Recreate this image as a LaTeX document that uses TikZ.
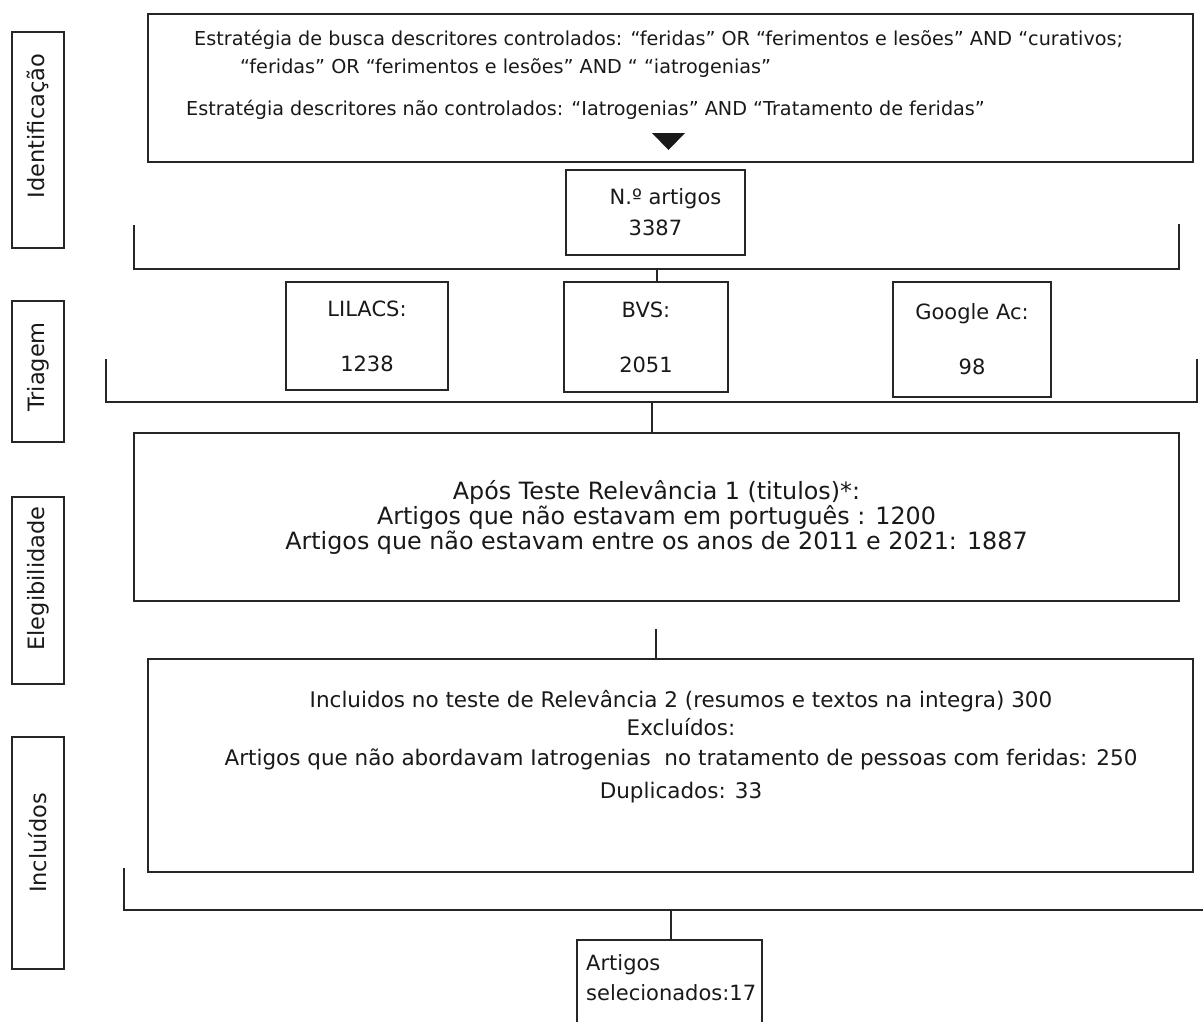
\documentclass[tikz,border=0pt]{standalone}
\usepackage{fontspec}
\setmainfont{DejaVu Sans}
\usetikzlibrary{positioning}

\begin{document}
\begin{tikzpicture}[x=1pt, y=-1pt,
  frame/.style={draw=black!85, line width=1.8pt, inner sep=0pt, text=black!90},
  stage/.style={frame, rotate=90, minimum height=52},
  stagetxt/.style={txt, rotate=90, font=\fontsize{22.5}{27}\selectfont},
  dbbox/.style={frame, align=center, font=\fontsize{21}{25}\selectfont},
  bigbox/.style={frame, minimum width=1045, align=center},
  txt/.style={inner sep=0pt, text=black!90},
  toptxt/.style={txt, anchor=base west, font=\fontsize{19.2}{22}\selectfont},
  link/.style={draw=black!85, line width=1.8pt},
]
\useasboundingbox (0,0) rectangle (1203,1021);

% phases on the left
\node[stage, minimum width=216] (ident) at (38,140) {};
\node[stage, minimum width=141] (triag) at (38,371.5) {};
\node[stage, minimum width=187] (elegi) at (38,590.5) {};
\node[stage, minimum width=232] (inclu) at (38,853) {};
\node[stagetxt] (identtxt) at (38,126) {Identificação};
\node[stagetxt] (triagtxt) at (38,367) {Triagem};
\node[stagetxt] (elegitxt) at (38,578.5) {Elegibilidade};
\node[stagetxt] (inclutxt) at (38,843) {Incluídos};

% search strategy
\node[bigbox, minimum height=148] (busca) at (670.5,88) {};
\node[toptxt] (busca1) at (194,45) {Estratégia de busca descritores controlados: “feridas” OR “ferimentos e lesões” AND “curativos;};
\node[toptxt] (busca2) at (240,73) {“feridas” OR “ferimentos e lesões” AND “ “iatrogenias”};
\node[toptxt] (busca3) at (186,115) {Estratégia descritores não controlados: “Iatrogenias” AND “Tratamento de feridas”};
\fill[black!90] (652,133) -- (685,133) -- (668.5,150) -- cycle;

% total and the three bases
\node[dbbox, align=left, minimum width=179, minimum height=85] (total) at (655.5,212.5)
  {\hspace*{20pt}N.º artigos\\[6pt]\hspace*{39pt}3387};
\node[dbbox, minimum width=162, minimum height=108] (lilacs) at (367,336) {LILACS:\\[30pt]1238};
\node[dbbox, minimum width=164, minimum height=110] (bvs) at (646,337) {BVS:\\[30pt]2051};
\node[dbbox, minimum width=158, minimum height=115] (google) at (972,339.5) {Google Ac:\\[30pt]98};

% relevance tests
\node[bigbox, minimum height=168, font=\fontsize{23.8}{25}\selectfont] (apos) at (656.5,517)
  {Após Teste Relevância 1 (titulos)*:\\
   Artigos que não estavam em português : 1200\\
   Artigos que não estavam entre os anos de 2011 e 2021: 1887};
\node[bigbox, minimum height=213] (incl) at (670.5,765.5) {};
\node[txt, anchor=base, align=center, font=\fontsize{21.5}{28}\selectfont] (incltxt) at (681,798)
  {Incluidos no teste de Relevância 2 (resumos e textos na integra) 300\\
   Excluídos:\\[2pt]
   Artigos que não abordavam Iatrogenias \ no tratamento de pessoas com feridas: 250\\[5pt]
   Duplicados: 33};

% selected
\node[frame, minimum width=185, minimum height=100] (sel) at (669.5,990) {};
\node[txt, anchor=base west, align=left, font=\fontsize{21}{30}\selectfont] (seltxt) at (586,1000)
  {Artigos\\selecionados:17};

% brackets
\coordinate (br1) at (657,269);
\coordinate (br2) at (652,402);
\coordinate (br3) at (671,910);
\coordinate (gap) at (656,629);
\draw[link] (134,225) |- (1179,269) -- (1179,224);
\draw[link] (106,359) |- (1197,402) -- (1197,359);
\draw[link] (124,868) |- (1210,910);

% connectors
\draw[link] (br1) -- (br1 |- bvs.north);
\draw[link] (br2) -- (br2 |- apos.north);
\draw[link] (gap) -- (gap |- incl.north);
\draw[link] (br3) -- (br3 |- sel.north);
\end{tikzpicture}
\end{document}
